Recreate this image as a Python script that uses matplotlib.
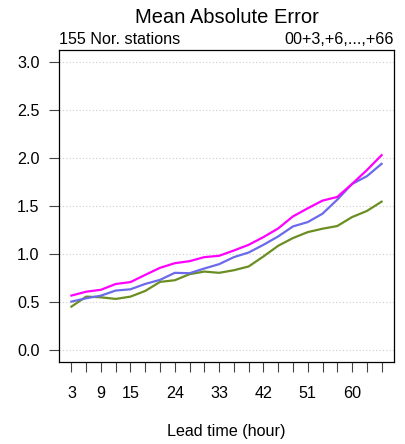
import matplotlib
matplotlib.use('Agg')
import matplotlib.pyplot as plt
import numpy as np

plt.rcParams['font.family'] = ['Liberation Sans', 'DejaVu Sans']

# lead times (hours)
lead = np.arange(3, 67, 3)

# mean absolute error per model
mae_magenta = [0.57, 0.61, 0.63, 0.69, 0.71, 0.785, 0.858, 0.906, 0.927, 0.969,
               0.983, 1.038, 1.097, 1.177, 1.267, 1.392, 1.476, 1.556, 1.594,
               1.729, 1.872, 2.028]
mae_blue = [0.507, 0.542, 0.569, 0.622, 0.635, 0.691, 0.733, 0.806, 0.802, 0.851,
            0.896, 0.969, 1.017, 1.097, 1.184, 1.288, 1.333, 1.420, 1.566,
            1.729, 1.809, 1.938]
mae_green = [0.455, 0.559, 0.552, 0.535, 0.559, 0.618, 0.712, 0.729, 0.792, 0.819,
             0.806, 0.833, 0.872, 0.976, 1.087, 1.167, 1.229, 1.264, 1.292,
             1.385, 1.448, 1.545]

xtick_labels = [3, 9, 15, 24, 33, 42, 51, 60]
yticks = [0.0, 0.5, 1.0, 1.5, 2.0, 2.5, 3.0]

fs = 11.6
W, H = 406, 444
fig = plt.figure(figsize=(W/100, H/100), dpi=100)
ax = fig.add_axes([59/W, (H-362)/H, (394-59)/W, (362-50)/H])

for y in yticks:
    ax.axhline(y, color='#cccccc', lw=0.8, ls=(0, (1, 2)), zorder=0)

ax.plot(lead, mae_green, color='#6b8e23', lw=1.6)
ax.plot(lead, mae_blue, color='#6a6aea', lw=1.6)
ax.plot(lead, mae_magenta, color='#ff00ff', lw=1.6)

ax.set_xlim(0.48, 68.52)
ax.set_ylim(-0.12, 3.12)

ax.set_yticks(yticks)
ax.set_yticklabels(['%.1f' % y for y in yticks])
ax.set_xticks(lead)
ax.set_xticklabels([str(h) if h in xtick_labels else '' for h in lead])

ax.tick_params(axis='both', direction='out', length=7, width=0.8, color='#444444',
               labelsize=fs, labelcolor='black')
ax.tick_params(axis='y', pad=7)
ax.tick_params(axis='x', pad=10)

for s in ax.spines.values():
    s.set_linewidth(0.9)
    s.set_color('black')

ax.set_xlabel('Lead time (hour)', fontsize=fs, labelpad=17)
ax.text(0.5, 1 + 32/312, 'Mean Absolute Error', transform=ax.transAxes,
        ha='center', va='center', fontsize=14.5)
ax.text(0.0, 1.01, '155 Nor. stations', transform=ax.transAxes, ha='left', va='bottom', fontsize=fs)
ax.text(1.0, 1.01, '00+3,+6,...,+66', transform=ax.transAxes, ha='right', va='bottom', fontsize=fs)

fig.savefig('out.png', dpi=100)
